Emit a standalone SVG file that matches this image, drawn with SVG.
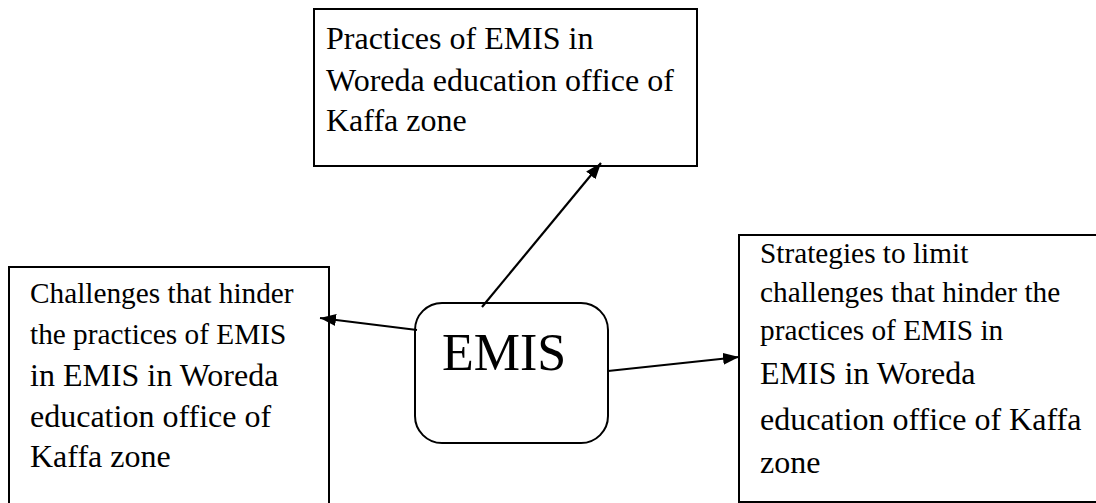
<svg xmlns="http://www.w3.org/2000/svg" width="1096" height="503" viewBox="0 0 1096 503">
<style>
.box{fill:#fff;stroke:#000;stroke-width:2}
.t{font-family:"Liberation Serif","Times New Roman",serif;fill:#000}
.s{font-size:29.3px}
.m{font-size:32px}
.conn{stroke:#000;stroke-width:2.2;fill:none}
</style>
<defs>
<marker id="ah" markerUnits="userSpaceOnUse" markerWidth="18" markerHeight="14" refX="16" refY="6" orient="auto">
<path d="M0,0 L16,6 L0,12 z" fill="#000"/>
</marker>
</defs>
<rect width="1096" height="503" fill="#fff"/>
<g id="practices">
<rect class="box" x="314" y="9" width="383" height="157"/>
<text class="t m" x="326" y="49">Practices of EMIS in</text>
<text class="t m" x="326" y="91">Woreda education office of</text>
<text class="t m" x="326" y="131">Kaffa zone</text>
</g>
<g id="challenges">
<rect class="box" x="9" y="267" width="320" height="250"/>
<text class="t s" x="30" y="303">Challenges that hinder</text>
<text class="t s" x="30" y="344">the practices of EMIS</text>
<text class="t m" x="30" y="386">in EMIS in Woreda</text>
<text class="t m" x="30" y="427">education office of</text>
<text class="t m" x="30" y="467">Kaffa zone</text>
</g>
<g id="strategies">
<rect class="box" x="739" y="235" width="370" height="267"/>
<text class="t s" x="760" y="263">Strategies to limit</text>
<text class="t s" x="760" y="302">challenges that hinder the</text>
<text class="t s" x="760" y="340">practices of EMIS in</text>
<text class="t m" x="760" y="384">EMIS in Woreda</text>
<text class="t m" x="760" y="430">education office of Kaffa</text>
<text class="t m" x="760" y="473">zone</text>
</g>
<g id="emis">
<rect class="box" x="415" y="303" width="193" height="140" rx="27" ry="27"/>
<text class="t" x="442" y="370" font-size="52">EMIS</text>
</g>
<g id="connectors">
<line class="conn" x1="482" y1="307" x2="601" y2="163" marker-end="url(#ah)"/>
<line class="conn" x1="417" y1="330" x2="320" y2="318" marker-end="url(#ah)"/>
<line class="conn" x1="608" y1="371" x2="739" y2="357" marker-end="url(#ah)"/>
</g>
</svg>
